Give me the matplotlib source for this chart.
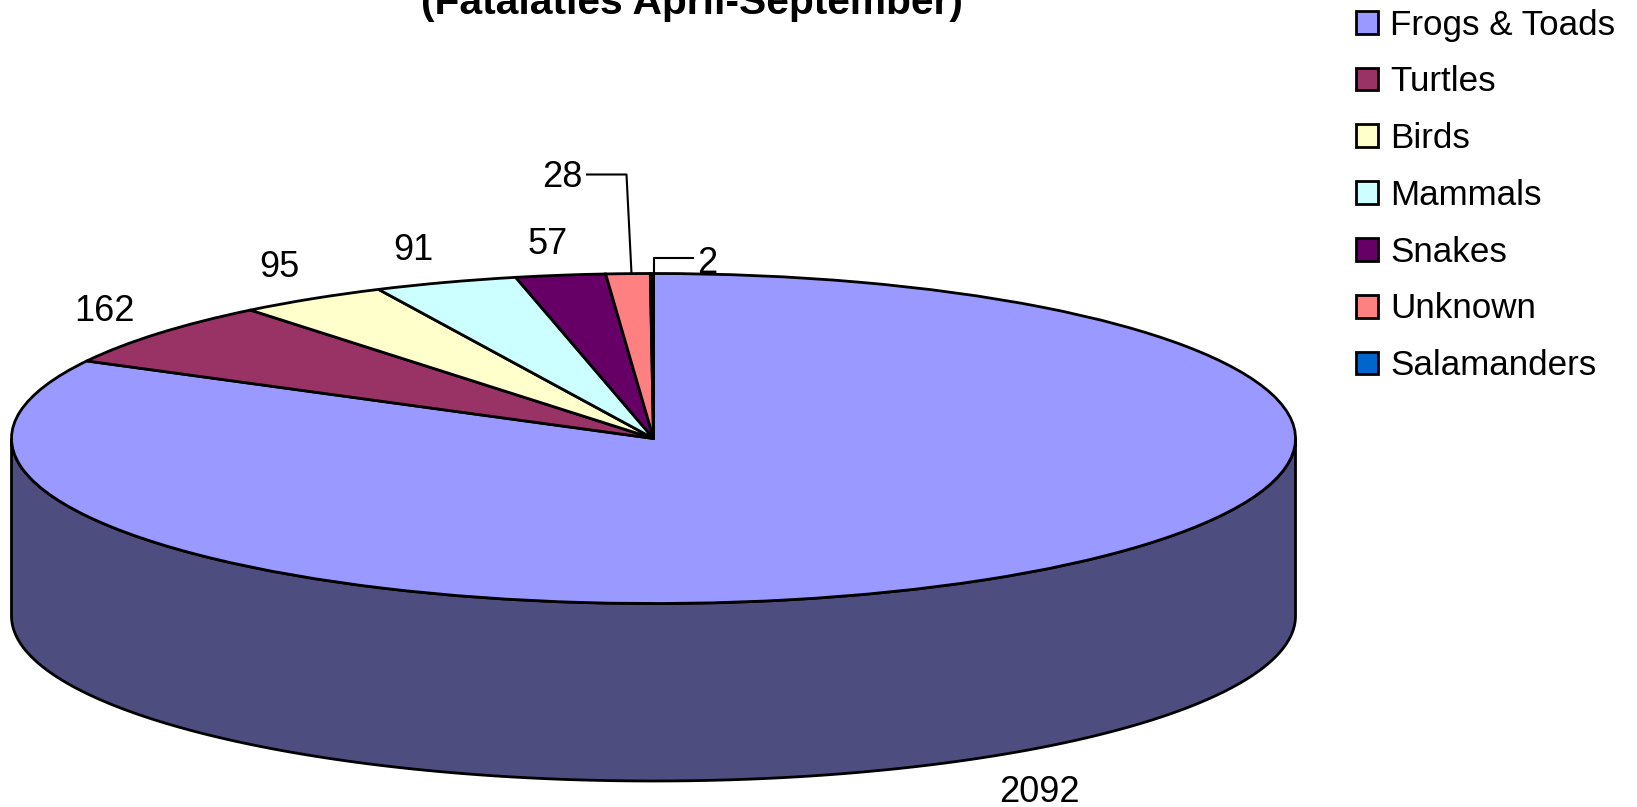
import numpy as np
import matplotlib
matplotlib.use('Agg')
import matplotlib.pyplot as plt

categories = ['Frogs & Toads', 'Turtles', 'Birds', 'Mammals', 'Snakes', 'Unknown', 'Salamanders']
fatalities = [2092, 162, 95, 91, 57, 28, 2]
colors = ['#9999FF', '#993366', '#FFFFCC', '#CCFFFF', '#660066', '#FF8080', '#0066CC']
side_color = '#4D4D80'
title = '(Fatalaties April-September)'

W, H = 1637, 807
cx, cy = 653.5, 438.5
rx, ry = 642.0, 165.0
depth = 177.5 / ry

plt.rcParams['font.family'] = ['Liberation Sans', 'DejaVu Sans']


def px(x, y):
    # reference pixel -> data coordinates of the stretched pie axes
    return (x - cx) / rx, (cy - y) / ry


fig = plt.figure(figsize=(W / 100, H / 100), dpi=100)
ax = fig.add_axes([0, 0, 1, 1])

# side wall of the disc
t = np.linspace(np.pi, 2 * np.pi, 300)
side_x = np.concatenate([np.cos(t), np.cos(t[::-1])])
side_y = np.concatenate([np.sin(t) - depth, np.sin(t[::-1])])
ax.fill(side_x, side_y, facecolor=side_color, edgecolor='black', linewidth=2, zorder=0)

wedges, _ = ax.pie(fatalities, colors=colors, startangle=90, counterclock=False,
                   wedgeprops={'edgecolor': 'black', 'linewidth': 2})

ax.set_aspect('auto')
ax.set_xlim(px(0, 0)[0], px(W, 0)[0])
ax.set_ylim(px(0, H)[1], px(0, 0)[1])
ax.axis('off')

# data labels
label_pos = [(1039, 793), (104.5, 312), (279, 268), (413.5, 250.5), (548, 245), (562, 178), (707, 264)]
for val, (x, y) in zip(fatalities, label_pos):
    ax.text(*px(x, y), str(val), fontsize=26, ha='center', va='center', color='black')

# leader lines for the two thin slices
leaders = [[(587, 174.5), (626.5, 174.5), (631.5, 273.5)],
           [(653.5, 273.5), (653.5, 258), (693, 258)]]
for line in leaders:
    pts = np.array([px(x, y) for x, y in line])
    ax.plot(pts[:, 0], pts[:, 1], color='black', linewidth=1.5, zorder=5)

ax.text(*px(692, 14), title, fontsize=29.3, fontweight='bold', ha='center', va='baseline')

fig.legend(wedges, categories, loc='upper left', bbox_to_anchor=(1356 / W, 1 - 8.5 / H),
           frameon=False, fontsize=25.2, handlelength=0.62, handleheight=0.62,
           handletextpad=0.36, labelspacing=0.68, borderpad=0, borderaxespad=0)

# the salamander slice is too thin to show its fill in the pie, only the seam
wedges[-1].set_facecolor('black')

fig.savefig('out.png', dpi=100)
